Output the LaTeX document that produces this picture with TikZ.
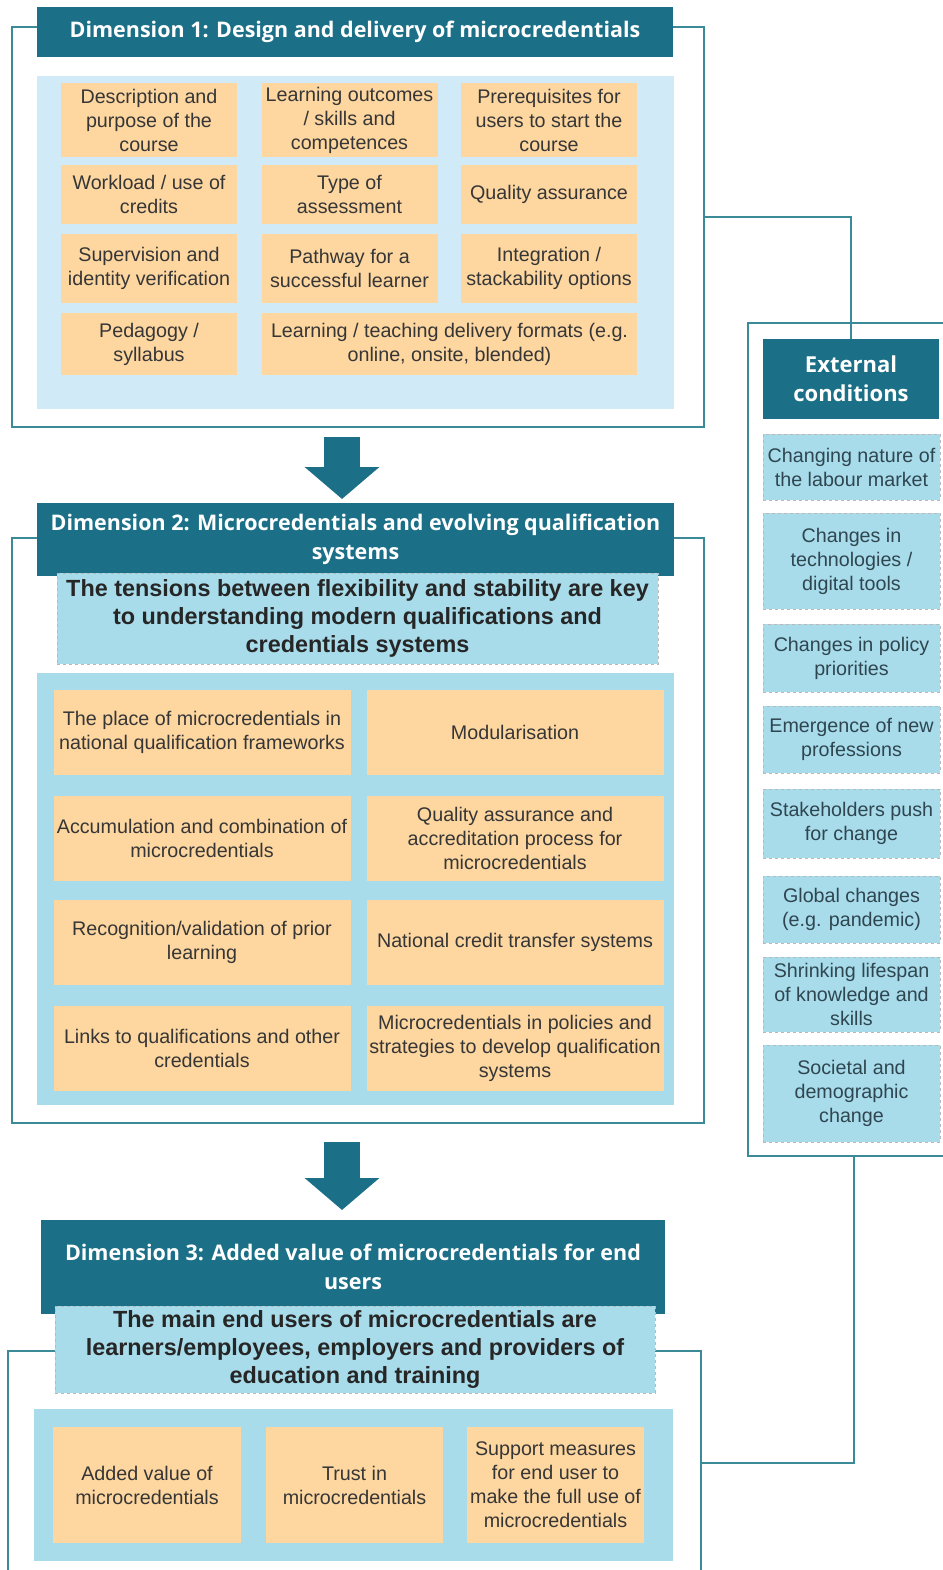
\documentclass[tikz,border=0pt]{standalone}
\usepackage{fontspec}
\setmainfont{Liberation Sans}
\newfontfamily\hdrfont{Open Sans}
\usetikzlibrary{arrows.meta}

\definecolor{tealdark}{HTML}{1B6F86}
\definecolor{frameline}{HTML}{3A8B97}
\definecolor{paleblue}{HTML}{D0EBF7}
\definecolor{midblue}{HTML}{A8DCEB}
\definecolor{peach}{HTML}{FDD6A0}
\definecolor{inkgray}{HTML}{363636}
\definecolor{slateink}{HTML}{2F4650}

\tikzset{
  frame/.style={draw=frameline, line width=1.6pt},
  link/.style={draw=frameline, line width=1.6pt},
  hdr/.style={fill=tealdark, text=white, align=center, inner sep=0pt,
    font=\hdrfont\bfseries\fontsize{21.5}{29.5}\selectfont},
  cell/.style={fill=peach, text=inkgray, align=center, inner sep=0pt,
    font=\fontsize{19.7}{24}\selectfont},
  extbox/.style={fill=midblue, draw=gray!55, dashed, line width=0.7pt, text=slateink,
    align=center, inner sep=0pt, font=\fontsize{19.7}{24}\selectfont},
  note/.style={fill=midblue, draw=gray!55, dashed, line width=0.7pt, text=black!85,
    align=center, inner sep=0pt, font=\bfseries\fontsize{23.4}{28}\selectfont},
  bigarrow/.style={draw=tealdark, line width=36pt, -{Triangle[width=73pt,length=32pt]}}
}

\begin{document}
\begin{tikzpicture}[x=1pt,y=-1pt]
\useasboundingbox (0,0) rectangle (942,1570);

% frames
\draw[frame] (12,27) rectangle (704,427);
\draw[frame] (12,538) rectangle (704,1123);
\draw[frame] (8,1590) |- (701,1351) -- (701,1590);
\draw[frame] (960,323) -| (748,1156) -- (960,1156);
\coordinate (d1r) at (704,217);
\coordinate (extb) at (854,1156);
\coordinate (d3r) at (701,1463);

% dimension 1
\node[hdr, minimum width=636, minimum height=50] (d1head) at (355,32)
  {Dimension 1: Design and delivery of microcredentials};
\fill[paleblue] (37,76) rectangle (674,409);
\foreach \id/\x/\y/\w/\h/\txt in {%
  d1a/149/120/176/74/{Description and\\purpose of the\\course},
  d1b/349.5/120/176/74/{Learning outcomes\\/ skills and\\competences},
  d1c/549/120/176/74/{Prerequisites for\\users to start the\\course},
  d1d/149/194.5/176/59/{Workload / use of\\credits},
  d1e/349.5/194.5/176/59/{Type of\\assessment},
  d1f/549/194.5/176/59/{Quality assurance},
  d1g/149/268.5/176/69/{Supervision and\\identity verification},
  d1h/349.5/268.5/176/69/{Pathway for a\\successful learner},
  d1i/549/268.5/176/69/{Integration /\\stackability options},
  d1j/149/344/176/62/{Pedagogy /\\syllabus},
  d1k/449.5/344/375/62/{Learning / teaching delivery formats (e.g.\\online, onsite, blended)}}{
  \node[cell, minimum width=\w, minimum height=\h] (\id) at (\x,\y) {\txt};
}

% dimension 2
\node[hdr, minimum width=637, minimum height=73] (d2head) at (355.5,539.5)
  {Dimension 2: Microcredentials and evolving qualification\\systems};
\node[note, minimum width=601, minimum height=91] (d2note) at (357.5,618.5)
  {The tensions between flexibility and stability are key\\to understanding modern qualifications and\\credentials systems};
\fill[midblue] (37,673) rectangle (674,1105);
\foreach \id/\x/\y/\txt in {%
  d2a/202/732/{The place of microcredentials in\\national qualification frameworks},
  d2b/515/732/{Modularisation},
  d2c/202/838/{Accumulation and combination of\\microcredentials},
  d2d/515/838/{Quality assurance and\\accreditation process for\\microcredentials},
  d2e/202/942.5/{Recognition/validation of prior\\learning},
  d2f/515/942.5/{National credit transfer systems},
  d2g/202/1048.5/{Links to qualifications and other\\credentials},
  d2h/515/1048.5/{Microcredentials in policies and\\strategies to develop qualification\\systems}}{
  \node[cell, minimum width=297, minimum height=85] (\id) at (\x,\y) {\txt};
}

% dimension 3
\node[hdr, minimum width=624, minimum height=94] (d3head) at (353,1267)
  {Dimension 3: Added value of microcredentials for end\\users};
\node[note, minimum width=600, minimum height=87] (d3note) at (355,1349.5)
  {The main end users of microcredentials are\\learners/employees, employers and providers of\\education and training};
\fill[midblue] (34,1409) rectangle (673,1561);
\foreach \id/\x/\w/\txt in {%
  d3a/147/188/{Added value of\\microcredentials},
  d3b/354.5/177/{Trust in\\microcredentials},
  d3c/555.5/177/{Support measures\\for end user to\\make the full use of\\microcredentials}}{
  \node[cell, minimum width=\w, minimum height=116] (\id) at (\x,1485) {\txt};
}

% external conditions
\node[hdr, minimum width=176, minimum height=80, font=\hdrfont\bfseries\fontsize{22}{29}\selectfont]
  (exthead) at (851,379) {External\\conditions};
\foreach \id/\y/\h/\txt in {%
  ex1/467/66/{Changing nature of\\the labour market},
  ex2/561/96/{Changes in\\technologies /\\digital tools},
  ex3/658/68/{Changes in policy\\priorities},
  ex4/739.5/67/{Emergence of new\\professions},
  ex5/823.5/69/{Stakeholders push\\for change},
  ex6/909.5/67/{Global changes\\(e.g. pandemic)},
  ex7/994.5/75/{Shrinking lifespan\\of knowledge and\\skills},
  ex8/1093.5/97/{Societal and\\demographic\\change}}{
  \node[extbox, minimum width=177, minimum height=\h] (\id) at (851.5,\y) {\txt};
}

% connectors
\draw[link] (d1r) -| (exthead.north);
\draw[link] (extb) |- (d3r);
\coordinate (a1) at (342,437);
\coordinate (a2) at (342,1142);
\draw[bigarrow] (a1) -- (342,499);
\draw[bigarrow] (a2) -- (342,1210);
\end{tikzpicture}
\end{document}
